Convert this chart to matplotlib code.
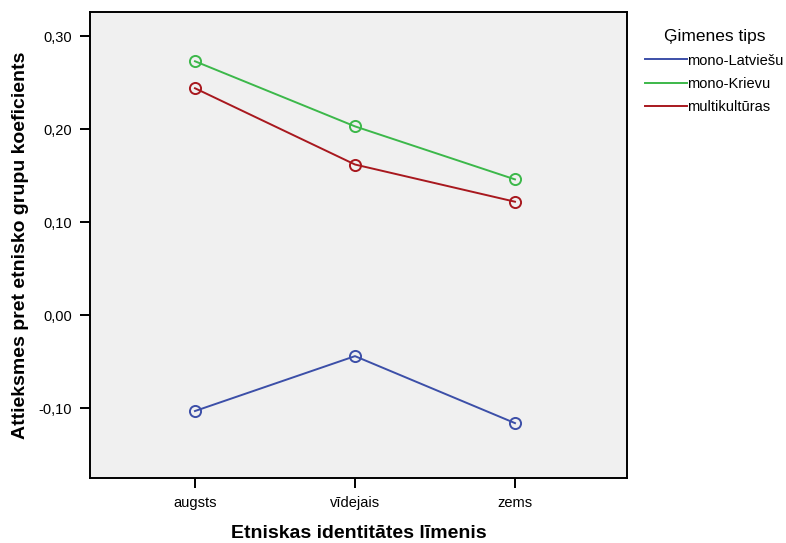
import matplotlib
matplotlib.use("Agg")
import matplotlib.pyplot as plt

plt.rcParams['font.family'] = ['Liberation Sans', 'DejaVu Sans']

# data ================================================================
categories = ['augsts', 'vīdejais', 'zems']
series_names = ['mono-Latviešu', 'mono-Krievu', 'multikultūras']
mono_latviesu = [-0.103, -0.044, -0.116]
mono_krievu = [0.273, 0.203, 0.146]
multikulturas = [0.244, 0.162, 0.122]
colors = ['#3c4fa8', '#3cb84a', '#a8181e']

fig = plt.figure(figsize=(7.86, 5.43), dpi=100)
ax = fig.add_axes([0.1145, 0.1197, 0.6832, 0.8583])
ax.set_facecolor('#f0f0f0')

x = list(range(len(categories)))
for vals, name, c in zip([mono_latviesu, mono_krievu, multikulturas], series_names, colors):
    ax.plot(x, vals, color=c, lw=1.4, label=name)
    ax.plot(x, vals, 'o', ms=8, mfc='none', mec=c, mew=1.4)

ax.set_xlim(-0.656, 2.7)
ax.set_ylim(-0.175, 0.326)
ax.set_xticks(x)
ax.set_xticklabels(categories, fontsize=10.5)
yt = [-0.1, 0.0, 0.1, 0.2, 0.3]
ax.set_yticks(yt)
ax.set_yticklabels([f'{v:.2f}'.replace('.', ',') for v in yt], fontsize=10.5)
ax.tick_params(length=7, width=1.4, direction='out', pad=6)
for s in ax.spines.values():
    s.set_linewidth(1.4)

ax.set_xlabel('Etniskas identitātes līmenis', fontsize=14, fontweight='bold', labelpad=11)
ax.set_ylabel('Attieksmes pret etnisko grupu koeficients', fontsize=14, fontweight='bold', labelpad=7)

leg = fig.legend(loc='upper left', bbox_to_anchor=(0.806, 0.968), frameon=False,
                 title='Ģimenes tips', fontsize=10.5, title_fontsize=12.5,
                 handlelength=2.9, handletextpad=0.0, labelspacing=0.65,
                 borderpad=0.3)

fig.savefig('out.png', dpi=100)
